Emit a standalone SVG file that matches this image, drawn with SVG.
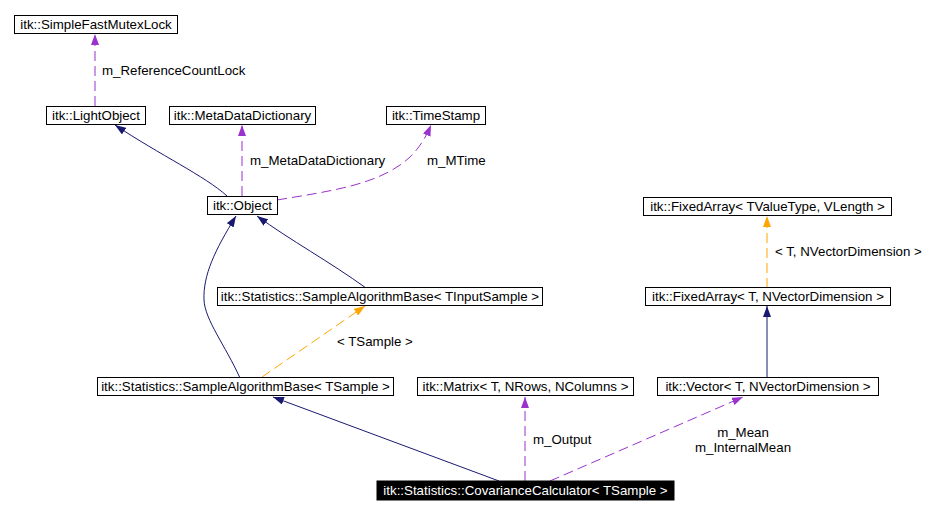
<svg xmlns="http://www.w3.org/2000/svg" width="941" height="515" viewBox="0 0 941 515">
<style>
text{font-family:"Liberation Sans",Arial,sans-serif;font-size:13.3px;fill:#000}
.n rect{fill:#fff;stroke:#000;stroke-width:1}
.n text{text-anchor:middle}
.dark rect{fill:#000}
.dark text{fill:#fff}
.e{fill:none;stroke-width:1}
.inh{stroke:#191970;marker-end:url(#aN)}
.use{stroke:#9a32cd;stroke-dasharray:10,5;marker-end:url(#aP)}
.tpl{stroke:#ffa500;stroke-dasharray:10,5;marker-end:url(#aO)}
</style>
<defs>
<marker id="aN" markerUnits="userSpaceOnUse" markerWidth="12" markerHeight="8" refX="11" refY="4" orient="auto"><path d="M0,0 L11,4 L0,8 z" fill="#191970"/></marker>
<marker id="aP" markerUnits="userSpaceOnUse" markerWidth="12" markerHeight="8" refX="11" refY="4" orient="auto"><path d="M0,0 L11,4 L0,8 z" fill="#9a32cd"/></marker>
<marker id="aO" markerUnits="userSpaceOnUse" markerWidth="12" markerHeight="8" refX="11" refY="4" orient="auto"><path d="M0,0 L11,4 L0,8 z" fill="#ffa500"/></marker>
</defs>
<rect width="941" height="515" fill="#fff"/>
<g id="connectors">
<path class="e use" d="M95,106 L95,34"/>
<path class="e inh" d="M227,196 C205,176 160,155 115,125"/>
<path class="e use" d="M242,196 L242,125"/>
<path class="e use" d="M277,200 C330,191 380,185 410,157 C420,147 426,137 431,125"/>
<path class="e inh" d="M240,378 C225,345 205,320 204,300 C203,275 215,250 236,216"/>
<path class="e inh" d="M366,288 C330,262 290,240 257,216"/>
<path class="e tpl" d="M262,377 L365,306"/>
<path class="e inh" d="M499,481 L273,397"/>
<path class="e use" d="M525,481 L525,397"/>
<path class="e use" d="M550,481 L743,397"/>
<path class="e inh" d="M767,377 L767,306"/>
<path class="e tpl" d="M767,288 L767,216"/>
<text x="102" y="75">m_ReferenceCountLock</text>
<text x="250" y="165">m_MetaDataDictionary</text>
<text x="427" y="165">m_MTime</text>
<text x="337" y="346">&lt; TSample &gt;</text>
<text x="533" y="444">m_Output</text>
<text x="743" y="437" text-anchor="middle">m_Mean</text>
<text x="743" y="452" text-anchor="middle">m_InternalMean</text>
<text x="775" y="256">&lt; T, NVectorDimension &gt;</text>
</g>
<g id="SimpleFastMutexLock" class="n"><rect x="14.5" y="15.5" width="163" height="18"/><text x="96" y="29">itk::SimpleFastMutexLock</text></g>
<g id="LightObject" class="n"><rect x="46.5" y="106.5" width="99" height="18"/><text x="96" y="120">itk::LightObject</text></g>
<g id="MetaDataDictionary" class="n"><rect x="169.5" y="106.5" width="146" height="18"/><text x="242.5" y="120">itk::MetaDataDictionary</text></g>
<g id="TimeStamp" class="n"><rect x="386.5" y="106.5" width="99" height="18"/><text x="436" y="120">itk::TimeStamp</text></g>
<g id="Object" class="n"><rect x="207.5" y="196.5" width="70" height="18"/><text x="242.5" y="210">itk::Object</text></g>
<g id="FixedArrayTValueType" class="n"><rect x="643.5" y="197.5" width="248" height="18"/><text x="767.5" y="211">itk::FixedArray&lt; TValueType, VLength &gt;</text></g>
<g id="SampleAlgorithmBaseTInputSample" class="n"><rect x="217.5" y="287.5" width="325" height="18"/><text x="380" y="301">itk::Statistics::SampleAlgorithmBase&lt; TInputSample &gt;</text></g>
<g id="FixedArrayT" class="n"><rect x="645.5" y="287.5" width="245" height="18"/><text x="768" y="301">itk::FixedArray&lt; T, NVectorDimension &gt;</text></g>
<g id="SampleAlgorithmBaseTSample" class="n"><rect x="97.5" y="377.5" width="296" height="18"/><text x="245.5" y="391">itk::Statistics::SampleAlgorithmBase&lt; TSample &gt;</text></g>
<g id="Matrix" class="n"><rect x="417.5" y="377.5" width="216" height="18"/><text x="525.5" y="391">itk::Matrix&lt; T, NRows, NColumns &gt;</text></g>
<g id="Vector" class="n"><rect x="657.5" y="377.5" width="221" height="18"/><text x="768" y="391">itk::Vector&lt; T, NVectorDimension &gt;</text></g>
<g id="CovarianceCalculator" class="n dark"><rect x="377" y="481" width="297" height="19"/><text x="525.5" y="495">itk::Statistics::CovarianceCalculator&lt; TSample &gt;</text></g>
</svg>
